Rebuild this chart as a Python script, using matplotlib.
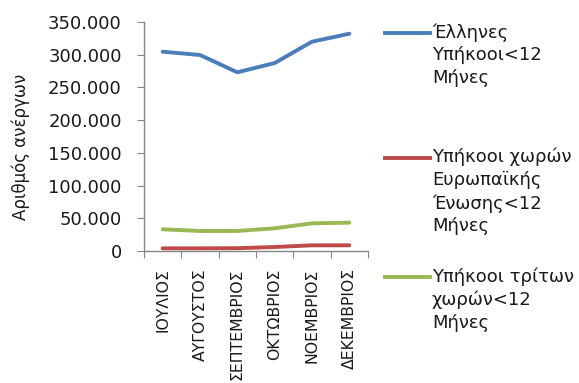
import matplotlib
matplotlib.use("Agg")
import matplotlib.pyplot as plt
from matplotlib.lines import Line2D

plt.rcParams['font.family'] = ['DejaVu Sans']

months = ["ΙΟΥΛΙΟΣ", "ΑΥΓΟΥΣΤΟΣ", "ΣΕΠΤΕΜΒΡΙΟΣ", "ΟΚΤΩΒΡΙΟΣ", "ΝΟΕΜΒΡΙΟΣ", "ΔΕΚΕΜΒΡΙΟΣ"]
greeks = [304600, 299600, 273100, 287300, 319900, 332100]
eu = [4100, 4100, 4300, 6100, 8700, 8700]
third = [33200, 30600, 30600, 34700, 42300, 43300]
series_labels = ["Έλληνες\nΥπήκοοι<12\nΜήνες",
                 "Υπήκοοι χωρών\nΕυρωπαϊκής\nΈνωσης<12\nΜήνες",
                 "Υπήκοοι τρίτων\nχωρών<12\nΜήνες"]
yticks = [0, 50000, 100000, 150000, 200000, 250000, 300000, 350000]
ytick_labels = ["0", "50.000", "100.000", "150.000", "200.000", "250.000", "300.000", "350.000"]

colors = ["#4A7EBB", "#BE4B48", "#98B954"]
txt = "#1a1a1a"

W, H = 579, 383
fig = plt.figure(figsize=(W / 100, H / 100), dpi=100)
ax = fig.add_axes([144 / W, 1 - 251 / H, (368 - 144) / W, (251 - 22) / H])

x = list(range(len(months)))
for vals, c in zip([greeks, eu, third], colors):
    ax.plot(x, vals, color=c, lw=2.8, solid_capstyle='round')

ax.set_xlim(-0.5, len(months) - 0.5)
ax.set_ylim(0, 350000)
ax.set_yticks(yticks)
ax.set_yticklabels(ytick_labels, fontsize=13, color=txt)
ax.set_xticks([i - 0.5 for i in range(len(months) + 1)])
ax.set_xticklabels([])
ax.set_xticks(x, minor=True)
ax.set_xticklabels(months, minor=True, rotation=90, fontsize=11.3, va='top', ha='center',
                   color=txt)
ax.tick_params(axis='x', which='minor', length=0, pad=12.5)
ax.tick_params(axis='x', which='major', length=5, color='#868686', direction='out')
ax.tick_params(axis='y', length=5, color='#868686', direction='out', pad=11)
for s in ['top', 'right']:
    ax.spines[s].set_visible(False)
for s in ['left', 'bottom']:
    ax.spines[s].set_color('#868686')
    ax.spines[s].set_linewidth(1)

fig.text(21 / W, 1 - 147 / H, "Αριθμός ανέργων", rotation=90, fontsize=12,
         ha='center', va='center', color=txt)

# legend
leg_y = [33, 158, 277]
for lab, c, yy in zip(series_labels, colors, leg_y):
    fig.add_artist(Line2D([385 / W, 430 / W], [1 - yy / H, 1 - yy / H], color=c, lw=2.8,
                          transform=fig.transFigure))
    fig.text(432 / W, 1 - (yy - 10) / H, lab, fontsize=13, ha='left', va='top',
             linespacing=1.34, color=txt)

fig.savefig("out.png", dpi=100)
